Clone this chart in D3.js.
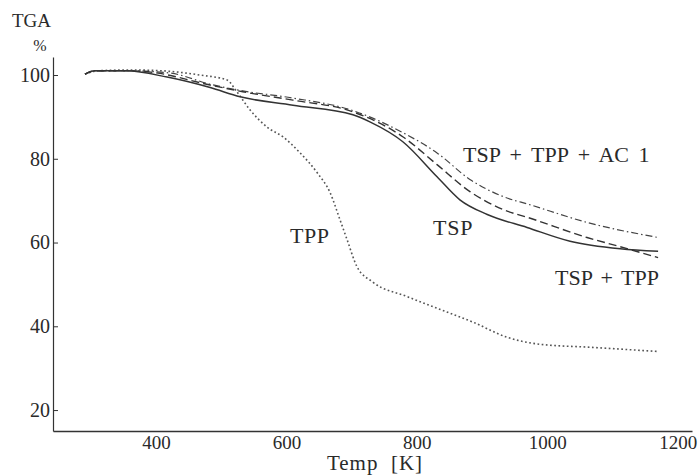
<!DOCTYPE html>
<html>
<head>
<meta charset="utf-8">
<script src="https://cdn.jsdelivr.net/npm/d3@7"></script>
<style>
  body { margin: 0; background: #fff; }
</style>
</head>
<body>
<svg id="chart"></svg>
<script>
// temperature (K) and TGA (%)
const tspT   = [291, 306, 355, 417, 483, 529, 610, 702, 728, 779, 831, 866, 908, 969, 1035, 1112, 1170];
const tspV   = [100.2, 101, 101, 99.5, 97, 94.8, 92.8, 90.5, 88.8, 84, 75.7, 70.2, 66.7, 63.6, 60.3, 58.5, 57.9];

const tppT   = [291, 310, 360, 410, 467, 509, 524, 544, 570, 595, 621, 647, 667, 682, 693, 708, 733, 785, 836, 886, 938, 989, 1066, 1168];
const tppV   = [100.2, 101, 101.2, 101, 100, 98.8, 96, 91.7, 87.6, 85.2, 81.4, 76.7, 71.9, 65.5, 60.7, 54.3, 50.5, 47.1, 44, 41, 37.4, 35.7, 35, 34];

const mixT   = [291, 306, 355, 391, 483, 533, 610, 702, 779, 831, 882, 932, 974, 1061, 1112, 1170];
const mixV   = [100.2, 101, 101, 100.7, 97.6, 96, 94, 91.2, 85.2, 78.6, 72.1, 67.9, 65.8, 61.2, 59, 56.4];

const acT    = [291, 306, 355, 420, 483, 533, 610, 702, 779, 831, 882, 932, 974, 1061, 1170];
const acV    = [100.2, 101, 101, 100.5, 97.8, 96.2, 94.5, 91.5, 86.2, 81.4, 75, 71, 69, 64.8, 61.2];

const xTicks = [400, 600, 800, 1000, 1200];
const yTicks = [20, 40, 60, 80, 100];

const width = 700, height = 475;
const serif = "'Liberation Serif', 'DejaVu Serif', 'Times New Roman', serif";

const svg = d3.select("#chart")
    .attr("width", width)
    .attr("height", height)
    .style("font-family", serif);

const x = d3.scaleLinear().domain([242, 1222]).range([53, 692]);
const y = d3.scaleLinear().domain([15, 104.3]).range([431, 57]);

// axes
const xAxis = svg.append("g")
    .attr("transform", "translate(0,431)")
    .call(d3.axisBottom(x).tickValues(xTicks).tickSize(0).tickPadding(5).tickFormat(d3.format("d")));
xAxis.select(".domain").attr("stroke", "#333").attr("stroke-width", 1.4);
xAxis.attr("font-family", serif);
xAxis.selectAll("text").attr("font-size", 19).attr("fill", "#2a2a2a");

const yAxis = svg.append("g")
    .attr("transform", "translate(53,0)")
    .call(d3.axisLeft(y).tickValues(yTicks).tickSizeInner(-5).tickSizeOuter(0).tickPadding(3));
yAxis.select(".domain").attr("stroke", "#333").attr("stroke-width", 1.2);
yAxis.attr("font-family", serif);
yAxis.selectAll(".tick line").attr("stroke", "#333");
yAxis.selectAll("text").attr("font-size", 20).attr("fill", "#2a2a2a");

// curves
const series = [
    { t: tppT, v: tppV, dash: "1.7,2.5", color: "#555", w: 1.6 },
    { t: acT,  v: acV,  dash: "7,3,1.5,3", color: "#444", w: 1.2 },
    { t: mixT, v: mixV, dash: "8,4", color: "#333", w: 1.4 },
    { t: tspT, v: tspV, dash: null, color: "#333", w: 1.5 }
];

const line = d3.line()
    .x(d => x(d[0]))
    .y(d => y(d[1]))
    .curve(d3.curveMonotoneX);

series.forEach(s => {
    svg.append("path")
        .datum(d3.zip(s.t, s.v))
        .attr("fill", "none")
        .attr("stroke", s.color)
        .attr("stroke-width", s.w)
        .attr("stroke-dasharray", s.dash)
        .attr("d", line);
});

// labels
const txt = (t, px, py, size, anchor) => svg.append("text")
    .attr("x", px).attr("y", py)
    .attr("font-family", serif)
    .attr("font-size", size)
    .attr("fill", "#2a2a2a")
    .attr("text-anchor", anchor || "start")
    .style("white-space", "pre")
    .text(t);

txt("TGA", 12, 27, 19);
txt("%", 40, 51, 16, "middle");
txt("Temp  [K]", 375, 470, 21, "middle").attr("letter-spacing", 1);

txt("TSP + TPP + AC 1", 463, 162, 22).attr("word-spacing", 4);
txt("TSP", 433, 235, 22).attr("letter-spacing", 0.8);
txt("TSP + TPP", 555, 285, 22).attr("word-spacing", 3);
txt("TPP", 290, 243, 22).attr("letter-spacing", 0.5);
</script>
</body>
</html>
